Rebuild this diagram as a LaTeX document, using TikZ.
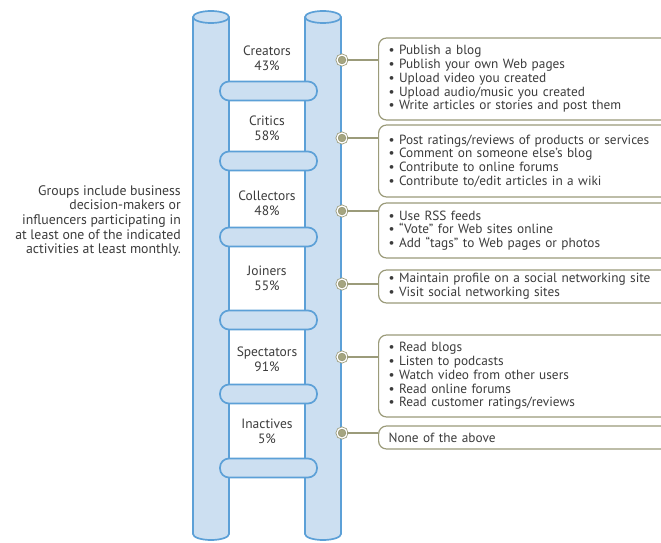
\documentclass[tikz,border=0pt]{standalone}
\usepackage{fontspec}
\setmainfont{PT Sans}
\usepackage{tikz}
\definecolor{poleblue}{RGB}{92,160,215}
\definecolor{polefill}{RGB}{204,223,241}
\definecolor{olive}{RGB}{155,155,122}
\definecolor{olivedot}{RGB}{165,165,128}
\definecolor{ink}{RGB}{60,60,60}
\tikzset{
  pole/.style={draw=poleblue,fill=polefill,line width=1.7pt},
  rung/.style={draw=poleblue,fill=polefill,line width=1.7pt,rectangle,rounded corners=9pt,minimum width=97pt,minimum height=19pt},
  rungtext/.style={text=ink,align=center,font=\fontsize{13.5}{15}\selectfont},
  dot/.style={circle,fill=olivedot,draw=olive,double=white,double distance=1.2pt,line width=0.8pt,minimum size=10pt,inner sep=0pt},
  callout/.style={draw=olive,line width=1.2pt,rounded corners=8pt,anchor=west,minimum width=320pt,text width=300pt,align=left,inner xsep=7pt,text=ink,font=\fontsize{13.3}{13.8}\selectfont},
  link/.style={draw=olive,line width=1.3pt}
}
\begin{document}
\begin{tikzpicture}[x=1pt,y=-1pt]
\clip (0,0) rectangle (661,543);
\fill[white] (0,0) rectangle (661,543);
%\draw[help lines,step=50] (0,0) grid (661,543);
% poles
\draw[pole] (193,17) -- (193,534) arc[start angle=180,end angle=0,x radius=18,y radius=6] -- (229,17);
\draw[pole] (211,17) ellipse[x radius=18,y radius=6];
\draw[pole] (305,17) -- (305,534) arc[start angle=180,end angle=0,x radius=18,y radius=6] -- (341,17);
\draw[pole] (323,17) ellipse[x radius=18,y radius=6];
% rungs
\node(r1) at (268.5,91)[rung] {};
\node(r2) at (268.5,161)[rung] {};
\node(r3) at (268.5,237)[rung] {};
\node(r4) at (268.5,320)[rung] {};
\node(r5) at (268.5,394)[rung] {};
\node(r6) at (268.5,468)[rung] {};
\node(creators) at (267,58)[rungtext] {Creators\\43\%};
\node(critics) at (267,128)[rungtext] {Critics\\58\%};
\node(collectors) at (267,203)[rungtext] {Collectors\\48\%};
\node(joiners) at (267,278)[rungtext] {Joiners\\55\%};
\node(spectators) at (267,359)[rungtext] {Spectators\\91\%};
\node(inactives) at (267,431)[rungtext] {Inactives\\5\%};
\node(note) at (181,221)[anchor=east,align=right,text=ink,inner sep=0pt,font=\fontsize{13.8}{14.6}\selectfont] {Groups include business\\decision-makers or\\influencers participating in\\at least one of the indicated\\activities at least monthly.};
% callouts
\node(b1) at (378,79)[callout,minimum height=82pt] {• Publish a blog\\• Publish your own Web pages\\• Upload video you created\\• Upload audio/music you created\\• Write articles or stories and post them};
\node(b2) at (378,161)[callout,minimum height=72pt] {• Post ratings/reviews of products or services\\• Comment on someone else’s blog\\• Contribute to online forums\\• Contribute to/edit articles in a wiki};
\node(b3) at (378,230.5)[callout,minimum height=55pt] {• Use RSS feeds\\• “Vote” for Web sites online\\• Add “tags” to Web pages or photos};
\node(b4) at (378,286.5)[callout,minimum height=33pt] {• Maintain profile on a social networking site\\• Visit social networking sites};
\node(b5) at (378,376)[callout,minimum height=82pt] {• Read blogs\\• Listen to podcasts\\• Watch video from other users\\• Read online forums\\• Read customer ratings/reviews};
\node(b6) at (378,437.5)[callout,minimum height=23pt] {None of the above};
\node(d1) at (342,60)[dot] {};
\node(d2) at (342,138)[dot] {};
\node(d3) at (342,211)[dot] {};
\node(d4) at (342,284)[dot] {};
\node(d5) at (342,357)[dot] {};
\node(d6) at (342,433)[dot] {};
\path[link] (d1) -- (b1.west |- d1);
\path[link] (d2) -- (b2.west |- d2);
\path[link] (d3) -- (b3.west |- d3);
\path[link] (d4) -- (b4.west |- d4);
\path[link] (d5) -- (b5.west |- d5);
\path[link] (d6) -- (b6.west |- d6);
\end{tikzpicture}
\end{document}
